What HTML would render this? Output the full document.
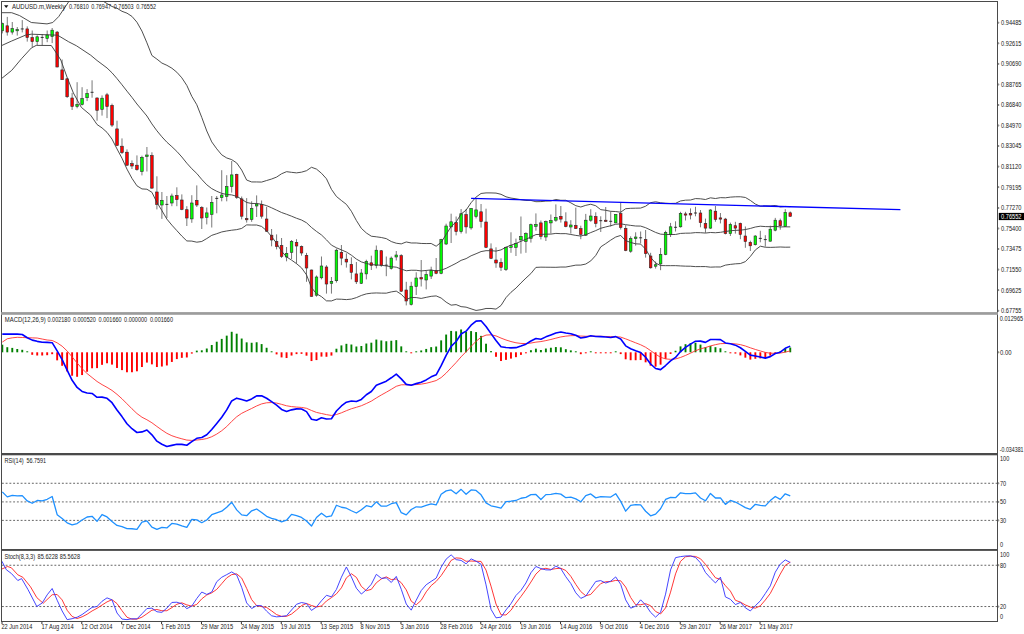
<!DOCTYPE html>
<html><head><meta charset="utf-8"><title>AUDUSD Weekly</title>
<style>html,body{margin:0;padding:0;background:#fff;overflow:hidden}svg{display:block}</style></head>
<body><svg width="1024" height="634" viewBox="0 0 1024 634" style="font-family:&quot;Liberation Sans&quot;,sans-serif"><defs><clipPath id="cm"><rect x="2" y="2" width="995" height="310"/></clipPath><clipPath id="cmacd"><rect x="2" y="314" width="995" height="139"/></clipPath><clipPath id="crsi"><rect x="2" y="455" width="995" height="94"/></clipPath><clipPath id="cst"><rect x="2" y="551" width="995" height="70"/></clipPath></defs><g clip-path="url(#cm)"><line x1="2.30" y1="22.60" x2="2.30" y2="33.40" stroke="#555" stroke-width="0.8" /><rect x="1.00" y="23.60" width="2.6" height="7.20" fill="#00ff00" stroke="#2a2a2a" stroke-width="0.6"/><line x1="7.29" y1="16.90" x2="7.29" y2="35.60" stroke="#555" stroke-width="0.8" /><rect x="5.99" y="25.80" width="2.6" height="6.30" fill="#ff0000" stroke="#2a2a2a" stroke-width="0.6"/><line x1="12.27" y1="22.00" x2="12.27" y2="34.60" stroke="#555" stroke-width="0.8" /><rect x="10.97" y="28.60" width="2.6" height="3.50" fill="#00ff00" stroke="#2a2a2a" stroke-width="0.6"/><line x1="17.26" y1="27.00" x2="17.26" y2="35.60" stroke="#555" stroke-width="0.8" /><rect x="15.96" y="29.60" width="2.6" height="1.20" fill="#00ff00" stroke="#2a2a2a" stroke-width="0.6"/><line x1="22.25" y1="20.10" x2="22.25" y2="32.40" stroke="#555" stroke-width="0.8" /><line x1="20.75" y1="28.95" x2="23.75" y2="28.95" stroke="#222" stroke-width="0.9" /><line x1="27.24" y1="26.40" x2="27.24" y2="41.60" stroke="#555" stroke-width="0.8" /><rect x="25.94" y="28.90" width="2.6" height="8.60" fill="#ff0000" stroke="#2a2a2a" stroke-width="0.6"/><line x1="32.22" y1="30.50" x2="32.22" y2="47.20" stroke="#555" stroke-width="0.8" /><rect x="30.92" y="37.50" width="2.6" height="4.10" fill="#ff0000" stroke="#2a2a2a" stroke-width="0.6"/><line x1="37.21" y1="35.30" x2="37.21" y2="45.00" stroke="#555" stroke-width="0.8" /><rect x="35.91" y="36.80" width="2.6" height="4.80" fill="#00ff00" stroke="#2a2a2a" stroke-width="0.6"/><line x1="42.20" y1="34.00" x2="42.20" y2="45.40" stroke="#555" stroke-width="0.8" /><line x1="40.70" y1="37.45" x2="43.70" y2="37.45" stroke="#222" stroke-width="0.9" /><line x1="47.18" y1="30.50" x2="47.18" y2="42.20" stroke="#555" stroke-width="0.8" /><rect x="45.88" y="34.90" width="2.6" height="3.50" fill="#00ff00" stroke="#2a2a2a" stroke-width="0.6"/><line x1="52.17" y1="28.00" x2="52.17" y2="43.10" stroke="#555" stroke-width="0.8" /><rect x="50.87" y="30.20" width="2.6" height="6.30" fill="#00ff00" stroke="#2a2a2a" stroke-width="0.6"/><line x1="57.16" y1="31.00" x2="57.16" y2="67.30" stroke="#555" stroke-width="0.8" /><rect x="55.86" y="32.10" width="2.6" height="34.90" fill="#ff0000" stroke="#2a2a2a" stroke-width="0.6"/><line x1="62.14" y1="59.50" x2="62.14" y2="79.70" stroke="#555" stroke-width="0.8" /><rect x="60.84" y="69.90" width="2.6" height="9.80" fill="#ff0000" stroke="#2a2a2a" stroke-width="0.6"/><line x1="67.13" y1="77.80" x2="67.13" y2="98.00" stroke="#555" stroke-width="0.8" /><rect x="65.83" y="78.80" width="2.6" height="17.90" fill="#ff0000" stroke="#2a2a2a" stroke-width="0.6"/><line x1="72.12" y1="92.90" x2="72.12" y2="110.00" stroke="#555" stroke-width="0.8" /><rect x="70.82" y="98.00" width="2.6" height="8.50" fill="#ff0000" stroke="#2a2a2a" stroke-width="0.6"/><line x1="77.11" y1="82.20" x2="77.11" y2="108.30" stroke="#555" stroke-width="0.8" /><rect x="75.81" y="104.40" width="2.6" height="2.10" fill="#00ff00" stroke="#2a2a2a" stroke-width="0.6"/><line x1="82.09" y1="87.20" x2="82.09" y2="105.50" stroke="#555" stroke-width="0.8" /><rect x="80.79" y="98.60" width="2.6" height="5.90" fill="#00ff00" stroke="#2a2a2a" stroke-width="0.6"/><line x1="87.08" y1="89.10" x2="87.08" y2="101.10" stroke="#555" stroke-width="0.8" /><rect x="85.78" y="93.50" width="2.6" height="4.20" fill="#00ff00" stroke="#2a2a2a" stroke-width="0.6"/><line x1="92.07" y1="80.30" x2="92.07" y2="97.70" stroke="#555" stroke-width="0.8" /><line x1="90.57" y1="92.30" x2="93.57" y2="92.30" stroke="#222" stroke-width="0.9" /><line x1="97.05" y1="97.30" x2="97.05" y2="120.70" stroke="#555" stroke-width="0.8" /><rect x="95.75" y="98.00" width="2.6" height="12.30" fill="#ff0000" stroke="#2a2a2a" stroke-width="0.6"/><line x1="102.04" y1="95.40" x2="102.04" y2="115.60" stroke="#555" stroke-width="0.8" /><rect x="100.74" y="98.20" width="2.6" height="11.10" fill="#00ff00" stroke="#2a2a2a" stroke-width="0.6"/><line x1="107.03" y1="92.90" x2="107.03" y2="118.10" stroke="#555" stroke-width="0.8" /><rect x="105.73" y="94.80" width="2.6" height="11.70" fill="#ff0000" stroke="#2a2a2a" stroke-width="0.6"/><line x1="112.01" y1="103.60" x2="112.01" y2="127.00" stroke="#555" stroke-width="0.8" /><rect x="110.71" y="105.30" width="2.6" height="19.80" fill="#ff0000" stroke="#2a2a2a" stroke-width="0.6"/><line x1="117.00" y1="120.70" x2="117.00" y2="145.50" stroke="#555" stroke-width="0.8" /><rect x="115.70" y="128.90" width="2.6" height="16.60" fill="#ff0000" stroke="#2a2a2a" stroke-width="0.6"/><line x1="121.99" y1="138.40" x2="121.99" y2="154.00" stroke="#555" stroke-width="0.8" /><rect x="120.69" y="146.20" width="2.6" height="6.40" fill="#ff0000" stroke="#2a2a2a" stroke-width="0.6"/><line x1="126.97" y1="149.40" x2="126.97" y2="166.00" stroke="#555" stroke-width="0.8" /><rect x="125.67" y="152.20" width="2.6" height="13.00" fill="#ff0000" stroke="#2a2a2a" stroke-width="0.6"/><line x1="131.96" y1="160.40" x2="131.96" y2="169.00" stroke="#555" stroke-width="0.8" /><rect x="130.66" y="163.60" width="2.6" height="2.40" fill="#ff0000" stroke="#2a2a2a" stroke-width="0.6"/><line x1="136.95" y1="155.40" x2="136.95" y2="170.70" stroke="#555" stroke-width="0.8" /><rect x="135.65" y="165.20" width="2.6" height="4.40" fill="#ff0000" stroke="#2a2a2a" stroke-width="0.6"/><line x1="141.94" y1="155.70" x2="141.94" y2="175.40" stroke="#555" stroke-width="0.8" /><rect x="140.64" y="157.30" width="2.6" height="14.20" fill="#00ff00" stroke="#2a2a2a" stroke-width="0.6"/><line x1="146.92" y1="147.00" x2="146.92" y2="171.50" stroke="#555" stroke-width="0.8" /><rect x="145.62" y="155.00" width="2.6" height="1.50" fill="#00ff00" stroke="#2a2a2a" stroke-width="0.6"/><line x1="151.91" y1="152.30" x2="151.91" y2="188.90" stroke="#555" stroke-width="0.8" /><rect x="150.61" y="155.50" width="2.6" height="32.60" fill="#ff0000" stroke="#2a2a2a" stroke-width="0.6"/><line x1="156.90" y1="176.30" x2="156.90" y2="209.40" stroke="#555" stroke-width="0.8" /><rect x="155.60" y="192.00" width="2.6" height="12.40" fill="#ff0000" stroke="#2a2a2a" stroke-width="0.6"/><line x1="161.88" y1="192.00" x2="161.88" y2="218.90" stroke="#555" stroke-width="0.8" /><rect x="160.58" y="200.30" width="2.6" height="4.70" fill="#00ff00" stroke="#2a2a2a" stroke-width="0.6"/><line x1="166.87" y1="196.00" x2="166.87" y2="218.00" stroke="#555" stroke-width="0.8" /><line x1="165.37" y1="204.40" x2="168.37" y2="204.40" stroke="#222" stroke-width="0.9" /><line x1="171.86" y1="193.60" x2="171.86" y2="206.20" stroke="#555" stroke-width="0.8" /><rect x="170.56" y="196.00" width="2.6" height="7.00" fill="#00ff00" stroke="#2a2a2a" stroke-width="0.6"/><line x1="176.85" y1="187.30" x2="176.85" y2="206.20" stroke="#555" stroke-width="0.8" /><rect x="175.55" y="195.50" width="2.6" height="4.10" fill="#ff0000" stroke="#2a2a2a" stroke-width="0.6"/><line x1="181.83" y1="194.40" x2="181.83" y2="210.20" stroke="#555" stroke-width="0.8" /><rect x="180.53" y="200.00" width="2.6" height="9.40" fill="#ff0000" stroke="#2a2a2a" stroke-width="0.6"/><line x1="186.82" y1="206.20" x2="186.82" y2="226.00" stroke="#555" stroke-width="0.8" /><rect x="185.52" y="209.70" width="2.6" height="8.30" fill="#ff0000" stroke="#2a2a2a" stroke-width="0.6"/><line x1="191.81" y1="195.20" x2="191.81" y2="222.80" stroke="#555" stroke-width="0.8" /><rect x="190.51" y="203.00" width="2.6" height="15.90" fill="#00ff00" stroke="#2a2a2a" stroke-width="0.6"/><line x1="196.79" y1="185.40" x2="196.79" y2="207.00" stroke="#555" stroke-width="0.8" /><rect x="195.49" y="200.30" width="2.6" height="4.70" fill="#ff0000" stroke="#2a2a2a" stroke-width="0.6"/><line x1="201.78" y1="206.20" x2="201.78" y2="229.00" stroke="#555" stroke-width="0.8" /><rect x="200.48" y="207.50" width="2.6" height="10.50" fill="#ff0000" stroke="#2a2a2a" stroke-width="0.6"/><line x1="206.77" y1="207.50" x2="206.77" y2="224.40" stroke="#555" stroke-width="0.8" /><rect x="205.47" y="212.90" width="2.6" height="4.40" fill="#00ff00" stroke="#2a2a2a" stroke-width="0.6"/><line x1="211.75" y1="196.00" x2="211.75" y2="227.50" stroke="#555" stroke-width="0.8" /><rect x="210.45" y="202.30" width="2.6" height="12.10" fill="#00ff00" stroke="#2a2a2a" stroke-width="0.6"/><line x1="216.74" y1="196.00" x2="216.74" y2="213.30" stroke="#555" stroke-width="0.8" /><line x1="215.24" y1="198.40" x2="218.24" y2="198.40" stroke="#222" stroke-width="0.9" /><line x1="221.73" y1="170.20" x2="221.73" y2="201.30" stroke="#555" stroke-width="0.8" /><rect x="220.43" y="195.00" width="2.6" height="2.60" fill="#00ff00" stroke="#2a2a2a" stroke-width="0.6"/><line x1="226.72" y1="175.20" x2="226.72" y2="201.30" stroke="#555" stroke-width="0.8" /><rect x="225.41" y="186.60" width="2.6" height="9.90" fill="#00ff00" stroke="#2a2a2a" stroke-width="0.6"/><line x1="231.70" y1="161.00" x2="231.70" y2="192.60" stroke="#555" stroke-width="0.8" /><rect x="230.40" y="174.90" width="2.6" height="11.70" fill="#00ff00" stroke="#2a2a2a" stroke-width="0.6"/><line x1="236.69" y1="173.70" x2="236.69" y2="198.90" stroke="#555" stroke-width="0.8" /><rect x="235.39" y="174.40" width="2.6" height="22.90" fill="#ff0000" stroke="#2a2a2a" stroke-width="0.6"/><line x1="241.68" y1="196.50" x2="241.68" y2="219.40" stroke="#555" stroke-width="0.8" /><rect x="240.38" y="198.90" width="2.6" height="17.30" fill="#ff0000" stroke="#2a2a2a" stroke-width="0.6"/><line x1="246.66" y1="198.10" x2="246.66" y2="222.60" stroke="#555" stroke-width="0.8" /><rect x="245.36" y="218.60" width="2.6" height="1.20" fill="#ff0000" stroke="#2a2a2a" stroke-width="0.6"/><line x1="251.65" y1="201.30" x2="251.65" y2="221.80" stroke="#555" stroke-width="0.8" /><rect x="250.35" y="208.40" width="2.6" height="11.00" fill="#00ff00" stroke="#2a2a2a" stroke-width="0.6"/><line x1="256.64" y1="195.40" x2="256.64" y2="217.00" stroke="#555" stroke-width="0.8" /><rect x="255.34" y="204.00" width="2.6" height="2.00" fill="#00ff00" stroke="#2a2a2a" stroke-width="0.6"/><line x1="261.62" y1="200.50" x2="261.62" y2="218.60" stroke="#555" stroke-width="0.8" /><rect x="260.32" y="204.40" width="2.6" height="11.80" fill="#ff0000" stroke="#2a2a2a" stroke-width="0.6"/><line x1="266.61" y1="206.80" x2="266.61" y2="232.00" stroke="#555" stroke-width="0.8" /><rect x="265.31" y="219.00" width="2.6" height="12.20" fill="#ff0000" stroke="#2a2a2a" stroke-width="0.6"/><line x1="271.60" y1="229.00" x2="271.60" y2="246.30" stroke="#555" stroke-width="0.8" /><rect x="270.30" y="235.20" width="2.6" height="4.80" fill="#ff0000" stroke="#2a2a2a" stroke-width="0.6"/><line x1="276.59" y1="234.40" x2="276.59" y2="249.40" stroke="#555" stroke-width="0.8" /><rect x="275.29" y="241.50" width="2.6" height="5.10" fill="#ff0000" stroke="#2a2a2a" stroke-width="0.6"/><line x1="281.57" y1="238.00" x2="281.57" y2="258.00" stroke="#555" stroke-width="0.8" /><rect x="280.27" y="245.50" width="2.6" height="11.00" fill="#ff0000" stroke="#2a2a2a" stroke-width="0.6"/><line x1="286.56" y1="247.00" x2="286.56" y2="261.30" stroke="#555" stroke-width="0.8" /><rect x="285.26" y="253.40" width="2.6" height="3.60" fill="#00ff00" stroke="#2a2a2a" stroke-width="0.6"/><line x1="291.55" y1="240.00" x2="291.55" y2="259.00" stroke="#555" stroke-width="0.8" /><rect x="290.25" y="241.50" width="2.6" height="10.80" fill="#00ff00" stroke="#2a2a2a" stroke-width="0.6"/><line x1="296.53" y1="239.20" x2="296.53" y2="263.60" stroke="#555" stroke-width="0.8" /><rect x="295.23" y="242.30" width="2.6" height="3.70" fill="#ff0000" stroke="#2a2a2a" stroke-width="0.6"/><line x1="301.52" y1="245.50" x2="301.52" y2="255.70" stroke="#555" stroke-width="0.8" /><rect x="300.22" y="246.60" width="2.6" height="6.40" fill="#ff0000" stroke="#2a2a2a" stroke-width="0.6"/><line x1="306.51" y1="252.90" x2="306.51" y2="281.80" stroke="#555" stroke-width="0.8" /><rect x="305.21" y="255.40" width="2.6" height="12.60" fill="#ff0000" stroke="#2a2a2a" stroke-width="0.6"/><line x1="311.49" y1="269.60" x2="311.49" y2="296.70" stroke="#555" stroke-width="0.8" /><rect x="310.19" y="270.00" width="2.6" height="26.40" fill="#ff0000" stroke="#2a2a2a" stroke-width="0.6"/><line x1="316.48" y1="275.50" x2="316.48" y2="296.70" stroke="#555" stroke-width="0.8" /><rect x="315.18" y="277.00" width="2.6" height="18.20" fill="#00ff00" stroke="#2a2a2a" stroke-width="0.6"/><line x1="321.47" y1="256.50" x2="321.47" y2="279.40" stroke="#555" stroke-width="0.8" /><rect x="320.17" y="266.00" width="2.6" height="11.80" fill="#00ff00" stroke="#2a2a2a" stroke-width="0.6"/><line x1="326.46" y1="265.20" x2="326.46" y2="293.60" stroke="#555" stroke-width="0.8" /><rect x="325.16" y="267.00" width="2.6" height="17.00" fill="#ff0000" stroke="#2a2a2a" stroke-width="0.6"/><line x1="331.44" y1="277.00" x2="331.44" y2="293.60" stroke="#555" stroke-width="0.8" /><rect x="330.14" y="281.30" width="2.6" height="2.00" fill="#00ff00" stroke="#2a2a2a" stroke-width="0.6"/><line x1="336.43" y1="248.60" x2="336.43" y2="282.60" stroke="#555" stroke-width="0.8" /><rect x="335.13" y="250.20" width="2.6" height="30.50" fill="#00ff00" stroke="#2a2a2a" stroke-width="0.6"/><line x1="341.42" y1="245.00" x2="341.42" y2="265.20" stroke="#555" stroke-width="0.8" /><rect x="340.12" y="252.30" width="2.6" height="5.80" fill="#ff0000" stroke="#2a2a2a" stroke-width="0.6"/><line x1="346.40" y1="253.40" x2="346.40" y2="267.60" stroke="#555" stroke-width="0.8" /><rect x="345.10" y="259.20" width="2.6" height="2.80" fill="#ff0000" stroke="#2a2a2a" stroke-width="0.6"/><line x1="351.39" y1="257.30" x2="351.39" y2="279.40" stroke="#555" stroke-width="0.8" /><rect x="350.09" y="264.40" width="2.6" height="7.90" fill="#ff0000" stroke="#2a2a2a" stroke-width="0.6"/><line x1="356.38" y1="262.00" x2="356.38" y2="284.00" stroke="#555" stroke-width="0.8" /><rect x="355.08" y="273.90" width="2.6" height="7.90" fill="#ff0000" stroke="#2a2a2a" stroke-width="0.6"/><line x1="361.36" y1="269.00" x2="361.36" y2="284.00" stroke="#555" stroke-width="0.8" /><rect x="360.06" y="273.00" width="2.6" height="10.30" fill="#00ff00" stroke="#2a2a2a" stroke-width="0.6"/><line x1="366.35" y1="259.70" x2="366.35" y2="279.40" stroke="#555" stroke-width="0.8" /><rect x="365.05" y="261.30" width="2.6" height="12.60" fill="#00ff00" stroke="#2a2a2a" stroke-width="0.6"/><line x1="371.34" y1="255.70" x2="371.34" y2="270.00" stroke="#555" stroke-width="0.8" /><rect x="370.04" y="262.80" width="2.6" height="2.70" fill="#ff0000" stroke="#2a2a2a" stroke-width="0.6"/><line x1="376.33" y1="245.50" x2="376.33" y2="268.40" stroke="#555" stroke-width="0.8" /><rect x="375.03" y="250.20" width="2.6" height="15.30" fill="#00ff00" stroke="#2a2a2a" stroke-width="0.6"/><line x1="381.31" y1="250.20" x2="381.31" y2="266.80" stroke="#555" stroke-width="0.8" /><rect x="380.01" y="250.70" width="2.6" height="14.50" fill="#ff0000" stroke="#2a2a2a" stroke-width="0.6"/><line x1="386.30" y1="256.50" x2="386.30" y2="276.20" stroke="#555" stroke-width="0.8" /><line x1="384.80" y1="265.20" x2="387.80" y2="265.20" stroke="#222" stroke-width="0.9" /><line x1="391.29" y1="256.50" x2="391.29" y2="269.60" stroke="#555" stroke-width="0.8" /><rect x="389.99" y="258.10" width="2.6" height="10.30" fill="#00ff00" stroke="#2a2a2a" stroke-width="0.6"/><line x1="396.27" y1="251.00" x2="396.27" y2="260.50" stroke="#555" stroke-width="0.8" /><rect x="394.97" y="255.00" width="2.6" height="2.00" fill="#00ff00" stroke="#2a2a2a" stroke-width="0.6"/><line x1="401.26" y1="254.20" x2="401.26" y2="292.00" stroke="#555" stroke-width="0.8" /><rect x="399.96" y="255.70" width="2.6" height="35.50" fill="#ff0000" stroke="#2a2a2a" stroke-width="0.6"/><line x1="406.25" y1="281.80" x2="406.25" y2="305.40" stroke="#555" stroke-width="0.8" /><rect x="404.95" y="290.00" width="2.6" height="11.00" fill="#ff0000" stroke="#2a2a2a" stroke-width="0.6"/><line x1="411.23" y1="281.80" x2="411.23" y2="305.50" stroke="#555" stroke-width="0.8" /><rect x="409.93" y="286.20" width="2.6" height="18.30" fill="#00ff00" stroke="#2a2a2a" stroke-width="0.6"/><line x1="416.22" y1="272.30" x2="416.22" y2="295.00" stroke="#555" stroke-width="0.8" /><rect x="414.92" y="278.00" width="2.6" height="8.50" fill="#00ff00" stroke="#2a2a2a" stroke-width="0.6"/><line x1="421.21" y1="260.00" x2="421.21" y2="286.50" stroke="#555" stroke-width="0.8" /><rect x="419.91" y="277.60" width="2.6" height="1.40" fill="#ff0000" stroke="#2a2a2a" stroke-width="0.6"/><line x1="426.19" y1="270.40" x2="426.19" y2="289.40" stroke="#555" stroke-width="0.8" /><rect x="424.89" y="274.60" width="2.6" height="5.40" fill="#00ff00" stroke="#2a2a2a" stroke-width="0.6"/><line x1="431.18" y1="266.70" x2="431.18" y2="279.00" stroke="#555" stroke-width="0.8" /><rect x="429.88" y="270.40" width="2.6" height="5.70" fill="#00ff00" stroke="#2a2a2a" stroke-width="0.6"/><line x1="436.17" y1="258.00" x2="436.17" y2="274.20" stroke="#555" stroke-width="0.8" /><rect x="434.87" y="270.40" width="2.6" height="2.90" fill="#ff0000" stroke="#2a2a2a" stroke-width="0.6"/><line x1="441.16" y1="238.80" x2="441.16" y2="274.20" stroke="#555" stroke-width="0.8" /><rect x="439.86" y="239.60" width="2.6" height="33.70" fill="#00ff00" stroke="#2a2a2a" stroke-width="0.6"/><line x1="446.14" y1="223.70" x2="446.14" y2="245.00" stroke="#555" stroke-width="0.8" /><rect x="444.84" y="226.00" width="2.6" height="18.00" fill="#00ff00" stroke="#2a2a2a" stroke-width="0.6"/><line x1="451.13" y1="213.70" x2="451.13" y2="243.00" stroke="#555" stroke-width="0.8" /><rect x="449.83" y="221.80" width="2.6" height="5.10" fill="#00ff00" stroke="#2a2a2a" stroke-width="0.6"/><line x1="456.12" y1="216.50" x2="456.12" y2="235.40" stroke="#555" stroke-width="0.8" /><rect x="454.82" y="222.60" width="2.6" height="9.00" fill="#ff0000" stroke="#2a2a2a" stroke-width="0.6"/><line x1="461.10" y1="209.00" x2="461.10" y2="233.50" stroke="#555" stroke-width="0.8" /><rect x="459.80" y="213.70" width="2.6" height="17.90" fill="#00ff00" stroke="#2a2a2a" stroke-width="0.6"/><line x1="466.09" y1="209.00" x2="466.09" y2="233.50" stroke="#555" stroke-width="0.8" /><rect x="464.79" y="214.60" width="2.6" height="12.30" fill="#ff0000" stroke="#2a2a2a" stroke-width="0.6"/><line x1="471.08" y1="208.00" x2="471.08" y2="229.70" stroke="#555" stroke-width="0.8" /><rect x="469.78" y="208.50" width="2.6" height="19.40" fill="#00ff00" stroke="#2a2a2a" stroke-width="0.6"/><line x1="476.06" y1="198.50" x2="476.06" y2="218.40" stroke="#555" stroke-width="0.8" /><rect x="474.76" y="209.90" width="2.6" height="6.60" fill="#00ff00" stroke="#2a2a2a" stroke-width="0.6"/><line x1="481.05" y1="204.00" x2="481.05" y2="227.60" stroke="#555" stroke-width="0.8" /><rect x="479.75" y="211.80" width="2.6" height="9.80" fill="#ff0000" stroke="#2a2a2a" stroke-width="0.6"/><line x1="486.04" y1="208.70" x2="486.04" y2="248.10" stroke="#555" stroke-width="0.8" /><rect x="484.74" y="222.00" width="2.6" height="25.30" fill="#ff0000" stroke="#2a2a2a" stroke-width="0.6"/><line x1="491.03" y1="243.40" x2="491.03" y2="259.10" stroke="#555" stroke-width="0.8" /><rect x="489.73" y="248.90" width="2.6" height="9.40" fill="#ff0000" stroke="#2a2a2a" stroke-width="0.6"/><line x1="496.01" y1="247.30" x2="496.01" y2="267.80" stroke="#555" stroke-width="0.8" /><rect x="494.71" y="260.00" width="2.6" height="3.00" fill="#ff0000" stroke="#2a2a2a" stroke-width="0.6"/><line x1="501.00" y1="258.30" x2="501.00" y2="271.00" stroke="#555" stroke-width="0.8" /><rect x="499.70" y="262.30" width="2.6" height="5.00" fill="#ff0000" stroke="#2a2a2a" stroke-width="0.6"/><line x1="505.99" y1="246.50" x2="505.99" y2="271.00" stroke="#555" stroke-width="0.8" /><rect x="504.69" y="247.30" width="2.6" height="22.10" fill="#00ff00" stroke="#2a2a2a" stroke-width="0.6"/><line x1="510.97" y1="232.30" x2="510.97" y2="252.80" stroke="#555" stroke-width="0.8" /><rect x="509.67" y="245.70" width="2.6" height="1.60" fill="#00ff00" stroke="#2a2a2a" stroke-width="0.6"/><line x1="515.96" y1="238.60" x2="515.96" y2="256.00" stroke="#555" stroke-width="0.8" /><rect x="514.66" y="243.40" width="2.6" height="3.90" fill="#00ff00" stroke="#2a2a2a" stroke-width="0.6"/><line x1="520.95" y1="216.50" x2="520.95" y2="253.60" stroke="#555" stroke-width="0.8" /><rect x="519.65" y="236.30" width="2.6" height="3.60" fill="#00ff00" stroke="#2a2a2a" stroke-width="0.6"/><line x1="525.93" y1="232.30" x2="525.93" y2="252.80" stroke="#555" stroke-width="0.8" /><rect x="524.63" y="233.60" width="2.6" height="7.90" fill="#00ff00" stroke="#2a2a2a" stroke-width="0.6"/><line x1="530.92" y1="223.60" x2="530.92" y2="242.60" stroke="#555" stroke-width="0.8" /><rect x="529.62" y="224.70" width="2.6" height="13.60" fill="#00ff00" stroke="#2a2a2a" stroke-width="0.6"/><line x1="535.91" y1="213.40" x2="535.91" y2="230.70" stroke="#555" stroke-width="0.8" /><rect x="534.61" y="224.40" width="2.6" height="1.90" fill="#00ff00" stroke="#2a2a2a" stroke-width="0.6"/><line x1="540.90" y1="220.50" x2="540.90" y2="239.40" stroke="#555" stroke-width="0.8" /><rect x="539.60" y="222.90" width="2.6" height="13.40" fill="#ff0000" stroke="#2a2a2a" stroke-width="0.6"/><line x1="545.88" y1="220.50" x2="545.88" y2="241.00" stroke="#555" stroke-width="0.8" /><rect x="544.58" y="221.60" width="2.6" height="15.40" fill="#00ff00" stroke="#2a2a2a" stroke-width="0.6"/><line x1="550.87" y1="214.50" x2="550.87" y2="233.50" stroke="#555" stroke-width="0.8" /><rect x="549.57" y="220.60" width="2.6" height="2.30" fill="#00ff00" stroke="#2a2a2a" stroke-width="0.6"/><line x1="555.86" y1="204.40" x2="555.86" y2="221.80" stroke="#555" stroke-width="0.8" /><rect x="554.56" y="217.50" width="2.6" height="2.70" fill="#00ff00" stroke="#2a2a2a" stroke-width="0.6"/><line x1="560.84" y1="206.00" x2="560.84" y2="222.60" stroke="#555" stroke-width="0.8" /><rect x="559.54" y="216.30" width="2.6" height="2.80" fill="#ff0000" stroke="#2a2a2a" stroke-width="0.6"/><line x1="565.83" y1="212.30" x2="565.83" y2="227.30" stroke="#555" stroke-width="0.8" /><rect x="564.53" y="221.80" width="2.6" height="4.70" fill="#ff0000" stroke="#2a2a2a" stroke-width="0.6"/><line x1="570.82" y1="220.20" x2="570.82" y2="233.60" stroke="#555" stroke-width="0.8" /><rect x="569.52" y="225.00" width="2.6" height="2.00" fill="#00ff00" stroke="#2a2a2a" stroke-width="0.6"/><line x1="575.80" y1="207.60" x2="575.80" y2="228.90" stroke="#555" stroke-width="0.8" /><rect x="574.50" y="225.40" width="2.6" height="3.20" fill="#ff0000" stroke="#2a2a2a" stroke-width="0.6"/><line x1="580.79" y1="225.70" x2="580.79" y2="239.20" stroke="#555" stroke-width="0.8" /><rect x="579.49" y="228.60" width="2.6" height="5.80" fill="#ff0000" stroke="#2a2a2a" stroke-width="0.6"/><line x1="585.78" y1="213.90" x2="585.78" y2="236.00" stroke="#555" stroke-width="0.8" /><rect x="584.48" y="220.20" width="2.6" height="15.00" fill="#00ff00" stroke="#2a2a2a" stroke-width="0.6"/><line x1="590.77" y1="209.20" x2="590.77" y2="221.80" stroke="#555" stroke-width="0.8" /><rect x="589.47" y="216.00" width="2.6" height="4.20" fill="#00ff00" stroke="#2a2a2a" stroke-width="0.6"/><line x1="595.75" y1="212.30" x2="595.75" y2="227.30" stroke="#555" stroke-width="0.8" /><rect x="594.45" y="216.60" width="2.6" height="6.80" fill="#ff0000" stroke="#2a2a2a" stroke-width="0.6"/><line x1="600.74" y1="216.30" x2="600.74" y2="232.00" stroke="#555" stroke-width="0.8" /><line x1="599.24" y1="220.70" x2="602.24" y2="220.70" stroke="#222" stroke-width="0.9" /><line x1="605.73" y1="207.00" x2="605.73" y2="221.80" stroke="#555" stroke-width="0.8" /><rect x="604.43" y="220.20" width="2.6" height="1.20" fill="#ff0000" stroke="#2a2a2a" stroke-width="0.6"/><line x1="610.71" y1="211.50" x2="610.71" y2="226.50" stroke="#555" stroke-width="0.8" /><line x1="609.21" y1="221.30" x2="612.21" y2="221.30" stroke="#222" stroke-width="0.9" /><line x1="615.70" y1="214.20" x2="615.70" y2="223.20" stroke="#555" stroke-width="0.8" /><rect x="614.40" y="214.40" width="2.6" height="8.50" fill="#00ff00" stroke="#2a2a2a" stroke-width="0.6"/><line x1="620.69" y1="202.40" x2="620.69" y2="229.50" stroke="#555" stroke-width="0.8" /><rect x="619.39" y="213.60" width="2.6" height="13.90" fill="#ff0000" stroke="#2a2a2a" stroke-width="0.6"/><line x1="625.67" y1="225.20" x2="625.67" y2="251.20" stroke="#555" stroke-width="0.8" /><rect x="624.38" y="228.40" width="2.6" height="22.10" fill="#ff0000" stroke="#2a2a2a" stroke-width="0.6"/><line x1="630.66" y1="236.30" x2="630.66" y2="252.80" stroke="#555" stroke-width="0.8" /><rect x="629.36" y="238.60" width="2.6" height="12.60" fill="#00ff00" stroke="#2a2a2a" stroke-width="0.6"/><line x1="635.65" y1="232.30" x2="635.65" y2="245.70" stroke="#555" stroke-width="0.8" /><rect x="634.35" y="237.00" width="2.6" height="1.60" fill="#00ff00" stroke="#2a2a2a" stroke-width="0.6"/><line x1="640.64" y1="231.50" x2="640.64" y2="243.40" stroke="#555" stroke-width="0.8" /><line x1="639.14" y1="237.80" x2="642.14" y2="237.80" stroke="#222" stroke-width="0.9" /><line x1="645.62" y1="230.00" x2="645.62" y2="257.60" stroke="#555" stroke-width="0.8" /><rect x="644.32" y="239.40" width="2.6" height="14.20" fill="#ff0000" stroke="#2a2a2a" stroke-width="0.6"/><line x1="650.61" y1="252.80" x2="650.61" y2="268.60" stroke="#555" stroke-width="0.8" /><rect x="649.31" y="256.00" width="2.6" height="11.80" fill="#ff0000" stroke="#2a2a2a" stroke-width="0.6"/><line x1="655.60" y1="261.50" x2="655.60" y2="268.60" stroke="#555" stroke-width="0.8" /><rect x="654.30" y="264.70" width="2.6" height="1.50" fill="#00ff00" stroke="#2a2a2a" stroke-width="0.6"/><line x1="660.58" y1="248.00" x2="660.58" y2="270.20" stroke="#555" stroke-width="0.8" /><rect x="659.28" y="254.40" width="2.6" height="9.50" fill="#00ff00" stroke="#2a2a2a" stroke-width="0.6"/><line x1="665.57" y1="230.70" x2="665.57" y2="255.20" stroke="#555" stroke-width="0.8" /><rect x="664.27" y="232.30" width="2.6" height="22.10" fill="#00ff00" stroke="#2a2a2a" stroke-width="0.6"/><line x1="670.56" y1="222.90" x2="670.56" y2="237.00" stroke="#555" stroke-width="0.8" /><rect x="669.26" y="226.80" width="2.6" height="7.90" fill="#00ff00" stroke="#2a2a2a" stroke-width="0.6"/><line x1="675.54" y1="221.30" x2="675.54" y2="231.50" stroke="#555" stroke-width="0.8" /><line x1="674.04" y1="227.30" x2="677.04" y2="227.30" stroke="#222" stroke-width="0.9" /><line x1="680.53" y1="211.80" x2="680.53" y2="227.60" stroke="#555" stroke-width="0.8" /><rect x="679.23" y="213.40" width="2.6" height="13.40" fill="#00ff00" stroke="#2a2a2a" stroke-width="0.6"/><line x1="685.52" y1="211.80" x2="685.52" y2="220.50" stroke="#555" stroke-width="0.8" /><rect x="684.22" y="213.90" width="2.6" height="1.20" fill="#ff0000" stroke="#2a2a2a" stroke-width="0.6"/><line x1="690.51" y1="208.40" x2="690.51" y2="219.40" stroke="#555" stroke-width="0.8" /><rect x="689.21" y="213.40" width="2.6" height="1.60" fill="#ff0000" stroke="#2a2a2a" stroke-width="0.6"/><line x1="695.49" y1="206.80" x2="695.49" y2="216.30" stroke="#555" stroke-width="0.8" /><line x1="693.99" y1="213.00" x2="696.99" y2="213.00" stroke="#222" stroke-width="0.9" /><line x1="700.48" y1="210.00" x2="700.48" y2="227.30" stroke="#555" stroke-width="0.8" /><rect x="699.18" y="213.00" width="2.6" height="9.60" fill="#ff0000" stroke="#2a2a2a" stroke-width="0.6"/><line x1="705.47" y1="218.60" x2="705.47" y2="232.80" stroke="#555" stroke-width="0.8" /><rect x="704.17" y="223.40" width="2.6" height="4.70" fill="#ff0000" stroke="#2a2a2a" stroke-width="0.6"/><line x1="710.45" y1="209.20" x2="710.45" y2="228.90" stroke="#555" stroke-width="0.8" /><rect x="709.15" y="210.00" width="2.6" height="18.10" fill="#00ff00" stroke="#2a2a2a" stroke-width="0.6"/><line x1="715.44" y1="206.00" x2="715.44" y2="221.80" stroke="#555" stroke-width="0.8" /><rect x="714.14" y="211.20" width="2.6" height="8.20" fill="#ff0000" stroke="#2a2a2a" stroke-width="0.6"/><line x1="720.43" y1="213.00" x2="720.43" y2="223.40" stroke="#555" stroke-width="0.8" /><rect x="719.13" y="217.90" width="2.6" height="1.20" fill="#ff0000" stroke="#2a2a2a" stroke-width="0.6"/><line x1="725.41" y1="217.90" x2="725.41" y2="234.40" stroke="#555" stroke-width="0.8" /><rect x="724.12" y="219.10" width="2.6" height="14.50" fill="#ff0000" stroke="#2a2a2a" stroke-width="0.6"/><line x1="730.40" y1="222.60" x2="730.40" y2="236.00" stroke="#555" stroke-width="0.8" /><rect x="729.10" y="224.50" width="2.6" height="9.10" fill="#00ff00" stroke="#2a2a2a" stroke-width="0.6"/><line x1="735.39" y1="221.80" x2="735.39" y2="233.60" stroke="#555" stroke-width="0.8" /><rect x="734.09" y="225.70" width="2.6" height="2.40" fill="#ff0000" stroke="#2a2a2a" stroke-width="0.6"/><line x1="740.38" y1="222.60" x2="740.38" y2="239.20" stroke="#555" stroke-width="0.8" /><rect x="739.08" y="223.40" width="2.6" height="11.00" fill="#ff0000" stroke="#2a2a2a" stroke-width="0.6"/><line x1="745.36" y1="226.50" x2="745.36" y2="247.80" stroke="#555" stroke-width="0.8" /><rect x="744.06" y="236.00" width="2.6" height="5.50" fill="#ff0000" stroke="#2a2a2a" stroke-width="0.6"/><line x1="750.35" y1="240.70" x2="750.35" y2="251.00" stroke="#555" stroke-width="0.8" /><rect x="749.05" y="242.30" width="2.6" height="3.50" fill="#ff0000" stroke="#2a2a2a" stroke-width="0.6"/><line x1="755.34" y1="235.20" x2="755.34" y2="245.50" stroke="#555" stroke-width="0.8" /><rect x="754.04" y="236.00" width="2.6" height="8.70" fill="#00ff00" stroke="#2a2a2a" stroke-width="0.6"/><line x1="760.32" y1="230.80" x2="760.32" y2="242.30" stroke="#555" stroke-width="0.8" /><line x1="758.82" y1="238.40" x2="761.82" y2="238.40" stroke="#222" stroke-width="0.9" /><line x1="765.31" y1="235.20" x2="765.31" y2="246.60" stroke="#555" stroke-width="0.8" /><line x1="763.81" y1="239.60" x2="766.81" y2="239.60" stroke="#222" stroke-width="0.9" /><line x1="770.30" y1="225.70" x2="770.30" y2="241.50" stroke="#555" stroke-width="0.8" /><rect x="769.00" y="229.20" width="2.6" height="12.00" fill="#00ff00" stroke="#2a2a2a" stroke-width="0.6"/><line x1="775.28" y1="217.90" x2="775.28" y2="231.30" stroke="#555" stroke-width="0.8" /><rect x="773.99" y="220.20" width="2.6" height="10.00" fill="#00ff00" stroke="#2a2a2a" stroke-width="0.6"/><line x1="780.27" y1="218.60" x2="780.27" y2="229.70" stroke="#555" stroke-width="0.8" /><rect x="778.97" y="220.70" width="2.6" height="5.00" fill="#ff0000" stroke="#2a2a2a" stroke-width="0.6"/><line x1="785.26" y1="209.20" x2="785.26" y2="226.50" stroke="#555" stroke-width="0.8" /><rect x="783.96" y="212.30" width="2.6" height="14.20" fill="#00ff00" stroke="#2a2a2a" stroke-width="0.6"/><line x1="790.25" y1="211.50" x2="790.25" y2="216.60" stroke="#555" stroke-width="0.8" /><rect x="788.95" y="212.80" width="2.6" height="3.50" fill="#ff0000" stroke="#2a2a2a" stroke-width="0.6"/><polyline points="2.00,12.70 11.70,12.70 19.60,15.60 31.30,22.50 47.00,23.90 52.80,22.50 58.70,16.60 68.50,2.00 80.00,-12.00 90.00,-8.00 97.05,-3.49 102.04,0.58 107.03,3.56 112.01,6.47 117.00,8.24 121.99,11.30 126.97,13.17 131.96,16.40 136.95,22.22 141.94,31.09 146.92,42.80 151.91,55.51 156.90,59.10 161.88,63.07 166.87,65.30 171.86,68.20 176.85,72.24 181.83,77.84 186.82,85.44 191.81,96.37 196.79,104.72 201.78,117.43 206.77,130.99 211.75,141.92 216.74,148.84 221.73,154.84 226.72,157.96 231.70,159.61 236.69,162.96 241.68,170.05 246.66,180.06 251.65,181.95 256.64,181.94 261.62,182.09 266.61,180.52 271.60,179.03 276.59,177.08 281.57,173.77 286.56,171.66 291.55,172.33 296.53,172.86 301.52,172.16 306.51,170.70 311.49,167.28 316.48,169.09 321.47,173.25 326.46,178.78 331.44,189.34 336.43,196.47 341.42,200.51 346.40,204.38 351.39,211.27 356.38,220.53 361.36,228.38 366.35,232.98 371.34,236.21 376.33,236.81 381.31,237.51 386.30,238.64 391.29,241.56 396.27,243.22 401.26,243.89 406.25,241.98 411.23,242.98 416.22,242.98 421.21,243.45 426.19,243.57 431.18,243.49 436.17,246.22 441.16,242.25 446.14,234.55 451.13,226.49 456.12,222.02 461.10,214.05 466.09,210.10 471.08,202.72 476.06,197.07 481.05,193.48 486.04,192.90 491.03,192.91 496.01,193.09 501.00,194.31 505.99,196.81 510.97,198.07 515.96,198.81 520.95,199.69 525.93,200.45 530.92,200.45 535.91,201.70 540.90,201.60 545.88,201.10 550.87,200.95 555.86,199.47 560.84,200.29 565.83,200.25 570.82,202.84 575.80,205.68 580.79,207.00 585.78,205.34 590.77,204.26 595.75,205.74 600.74,209.66 605.73,210.29 610.71,211.32 615.70,211.54 620.69,212.23 625.67,208.71 630.66,208.30 635.65,208.20 640.64,208.09 645.62,206.22 650.61,202.65 655.60,201.80 660.58,202.77 665.57,203.25 670.56,203.44 675.54,203.32 680.53,200.94 685.52,200.18 690.51,200.02 695.49,198.59 700.48,198.81 705.47,199.52 710.45,197.82 715.44,198.52 720.43,197.65 725.41,197.81 730.40,197.14 735.39,196.81 740.38,196.75 745.36,197.46 750.35,200.43 755.34,204.09 760.32,206.24 765.31,205.92 770.30,206.01 775.28,205.46 780.27,206.93 785.26,206.44 790.25,206.65" fill="none" stroke="#3a3a3a" stroke-width="0.9" stroke-linejoin="round" /><polyline points="2.00,45.40 11.70,41.00 25.40,35.20 31.30,34.20 57.60,35.20 68.70,41.80 76.50,45.80 90.70,55.20 97.05,60.51 102.04,64.24 107.03,67.97 112.01,72.79 117.00,78.58 121.99,84.77 126.97,91.15 131.96,97.37 136.95,104.01 141.94,110.01 146.92,116.01 151.91,123.91 156.90,130.78 161.88,136.81 166.87,142.19 171.86,146.66 176.85,151.43 181.83,156.97 186.82,163.19 191.81,168.72 196.79,173.46 201.78,179.45 206.77,184.77 211.75,188.63 216.74,191.28 221.73,193.39 226.72,194.46 231.70,194.91 236.69,196.30 241.68,199.24 246.66,202.47 251.65,203.49 256.64,203.47 261.62,204.27 266.61,205.61 271.60,207.81 276.59,210.15 281.57,212.51 286.56,214.28 291.55,216.20 296.53,218.25 301.52,220.00 306.51,222.76 311.49,227.46 316.48,231.40 321.47,234.94 326.46,239.82 331.44,245.13 336.43,247.78 341.42,249.88 346.40,251.99 351.39,255.18 356.38,259.07 361.36,261.91 366.35,263.42 371.34,264.70 376.33,264.88 381.31,265.31 386.30,265.90 391.29,266.73 396.27,267.18 401.26,269.09 406.25,270.74 411.23,270.23 416.22,270.28 421.21,270.93 426.19,270.46 431.18,269.92 436.17,271.07 441.16,270.15 446.14,268.34 451.13,265.82 456.12,263.31 461.10,260.35 466.09,258.63 471.08,255.78 476.06,253.76 481.05,251.58 486.04,250.68 491.03,250.70 496.01,251.10 501.00,249.90 505.99,247.22 510.97,245.19 515.96,243.46 520.95,241.32 525.93,239.27 530.92,236.99 535.91,234.55 540.90,234.38 545.88,234.16 550.87,234.10 555.86,233.40 560.84,233.66 565.83,233.64 570.82,234.47 575.80,235.40 580.79,236.05 585.78,234.69 590.77,232.57 595.75,230.59 600.74,228.27 605.73,226.95 610.71,225.73 615.70,224.28 620.69,223.84 625.67,224.68 630.66,225.38 635.65,226.01 640.64,226.08 645.62,227.69 650.61,230.04 655.60,232.41 660.58,234.17 665.57,234.46 670.56,234.55 675.54,234.48 680.53,233.43 685.52,233.18 690.51,233.12 695.49,232.60 700.48,232.70 705.47,233.05 710.45,232.49 715.44,232.74 720.43,232.32 725.41,231.47 730.40,230.77 735.39,230.33 740.38,230.16 745.36,229.55 750.35,228.45 755.34,227.01 760.32,226.21 765.31,226.58 770.30,226.70 775.28,226.34 780.27,226.96 785.26,226.82 790.25,226.89" fill="none" stroke="#3a3a3a" stroke-width="0.9" stroke-linejoin="round" /><polyline points="2.00,78.20 11.70,70.40 21.50,58.70 31.30,48.00 36.20,45.40 51.30,45.50 56.80,53.70 60.80,60.00 67.10,77.30 73.40,93.00 81.30,107.30 90.70,115.20 97.05,124.52 102.04,127.91 107.03,132.37 112.01,139.11 117.00,148.93 121.99,158.24 126.97,169.14 131.96,178.34 136.95,185.80 141.94,188.92 146.92,189.22 151.91,192.30 156.90,202.45 161.88,210.54 166.87,219.08 171.86,225.13 176.85,230.61 181.83,236.09 186.82,240.94 191.81,241.08 196.79,242.20 201.78,241.47 206.77,238.55 211.75,235.34 216.74,233.71 221.73,231.95 226.72,230.97 231.70,230.21 236.69,229.63 241.68,228.43 246.66,224.89 251.65,225.03 256.64,225.00 261.62,226.44 266.61,230.69 271.60,236.58 276.59,243.23 281.57,251.25 286.56,256.90 291.55,260.08 296.53,263.65 301.52,267.85 306.51,274.82 311.49,287.65 316.48,293.70 321.47,296.64 326.46,300.85 331.44,300.93 336.43,299.09 341.42,299.24 346.40,299.60 351.39,299.10 356.38,297.62 361.36,295.45 366.35,293.86 371.34,293.18 376.33,292.94 381.31,293.11 386.30,293.16 391.29,291.90 396.27,291.14 401.26,294.29 406.25,299.50 411.23,297.48 416.22,297.58 421.21,298.41 426.19,297.35 431.18,296.34 436.17,295.92 441.16,298.04 446.14,302.14 451.13,305.15 456.12,304.60 461.10,306.64 466.09,307.15 471.08,308.83 476.06,310.45 481.05,309.68 486.04,308.47 491.03,308.48 496.01,309.10 501.00,305.49 505.99,297.62 510.97,292.31 515.96,288.11 520.95,282.96 525.93,278.10 530.92,273.53 535.91,267.39 540.90,267.16 545.88,267.22 550.87,267.25 555.86,267.32 560.84,267.04 565.83,267.04 570.82,266.10 575.80,265.13 580.79,265.09 585.78,264.04 590.77,260.89 595.75,255.45 600.74,246.87 605.73,243.61 610.71,240.14 615.70,237.02 620.69,235.45 625.67,240.66 630.66,242.46 635.65,243.82 640.64,244.08 645.62,249.15 650.61,257.44 655.60,263.01 660.58,265.57 665.57,265.67 670.56,265.66 675.54,265.65 680.53,265.93 685.52,266.17 690.51,266.23 695.49,266.62 700.48,266.59 705.47,266.59 710.45,267.16 715.44,266.96 720.43,266.99 725.41,265.14 730.40,264.40 735.39,263.84 740.38,263.56 745.36,261.64 750.35,256.47 755.34,249.94 760.32,246.19 765.31,247.24 770.30,247.39 775.28,247.23 780.27,246.99 785.26,247.21 790.25,247.13" fill="none" stroke="#3a3a3a" stroke-width="0.9" stroke-linejoin="round" /><line x1="471.10" y1="198.40" x2="900.40" y2="209.60" stroke="#0000ff" stroke-width="1.3" /></g><g clip-path="url(#cmacd)"><rect x="1.35" y="344.70" width="1.9" height="7.60" fill="#008000"/><rect x="6.34" y="347.20" width="1.9" height="5.10" fill="#008000"/><rect x="11.32" y="347.90" width="1.9" height="4.40" fill="#008000"/><rect x="16.31" y="349.00" width="1.9" height="3.30" fill="#008000"/><rect x="21.30" y="349.80" width="1.9" height="2.50" fill="#008000"/><rect x="26.29" y="351.30" width="1.9" height="1.00" fill="#008000"/><rect x="31.27" y="352.30" width="1.9" height="2.50" fill="#ff0000"/><rect x="36.26" y="352.30" width="1.9" height="3.20" fill="#ff0000"/><rect x="41.25" y="352.30" width="1.9" height="3.20" fill="#ff0000"/><rect x="46.23" y="352.30" width="1.9" height="2.90" fill="#ff0000"/><rect x="51.22" y="352.30" width="1.9" height="1.90" fill="#ff0000"/><rect x="56.21" y="352.30" width="1.9" height="8.04" fill="#ff0000"/><rect x="61.19" y="352.30" width="1.9" height="13.48" fill="#ff0000"/><rect x="66.18" y="352.30" width="1.9" height="19.17" fill="#ff0000"/><rect x="71.17" y="352.30" width="1.9" height="23.44" fill="#ff0000"/><rect x="76.16" y="352.30" width="1.9" height="24.49" fill="#ff0000"/><rect x="81.14" y="352.30" width="1.9" height="22.76" fill="#ff0000"/><rect x="86.13" y="352.30" width="1.9" height="19.45" fill="#ff0000"/><rect x="91.12" y="352.30" width="1.9" height="15.96" fill="#ff0000"/><rect x="96.10" y="352.30" width="1.9" height="15.81" fill="#ff0000"/><rect x="101.09" y="352.30" width="1.9" height="12.53" fill="#ff0000"/><rect x="106.08" y="352.30" width="1.9" height="10.96" fill="#ff0000"/><rect x="111.06" y="352.30" width="1.9" height="12.30" fill="#ff0000"/><rect x="116.05" y="352.30" width="1.9" height="15.67" fill="#ff0000"/><rect x="121.04" y="352.30" width="1.9" height="17.81" fill="#ff0000"/><rect x="126.02" y="352.30" width="1.9" height="19.97" fill="#ff0000"/><rect x="131.01" y="352.30" width="1.9" height="19.94" fill="#ff0000"/><rect x="136.00" y="352.30" width="1.9" height="18.99" fill="#ff0000"/><rect x="140.99" y="352.30" width="1.9" height="14.71" fill="#ff0000"/><rect x="145.97" y="352.30" width="1.9" height="10.27" fill="#ff0000"/><rect x="150.96" y="352.30" width="1.9" height="12.06" fill="#ff0000"/><rect x="155.95" y="352.30" width="1.9" height="14.72" fill="#ff0000"/><rect x="160.93" y="352.30" width="1.9" height="14.23" fill="#ff0000"/><rect x="165.92" y="352.30" width="1.9" height="13.18" fill="#ff0000"/><rect x="170.91" y="352.30" width="1.9" height="9.64" fill="#ff0000"/><rect x="175.90" y="352.30" width="1.9" height="6.78" fill="#ff0000"/><rect x="180.88" y="352.30" width="1.9" height="5.54" fill="#ff0000"/><rect x="185.87" y="352.30" width="1.9" height="5.18" fill="#ff0000"/><rect x="190.86" y="352.30" width="1.9" height="1.29" fill="#ff0000"/><rect x="195.84" y="350.62" width="1.9" height="1.68" fill="#008000"/><rect x="200.83" y="350.30" width="1.9" height="2.00" fill="#008000"/><rect x="205.82" y="348.52" width="1.9" height="3.78" fill="#008000"/><rect x="210.80" y="344.99" width="1.9" height="7.31" fill="#008000"/><rect x="215.79" y="341.72" width="1.9" height="10.58" fill="#008000"/><rect x="220.78" y="338.89" width="1.9" height="13.41" fill="#008000"/><rect x="225.77" y="335.65" width="1.9" height="16.65" fill="#008000"/><rect x="230.75" y="331.79" width="1.9" height="20.51" fill="#008000"/><rect x="235.74" y="333.69" width="1.9" height="18.61" fill="#008000"/><rect x="240.73" y="338.54" width="1.9" height="13.76" fill="#008000"/><rect x="245.71" y="342.34" width="1.9" height="9.96" fill="#008000"/><rect x="250.70" y="342.76" width="1.9" height="9.54" fill="#008000"/><rect x="255.69" y="342.26" width="1.9" height="10.04" fill="#008000"/><rect x="260.67" y="344.08" width="1.9" height="8.22" fill="#008000"/><rect x="265.66" y="347.78" width="1.9" height="4.52" fill="#008000"/><rect x="270.65" y="351.30" width="1.9" height="1.00" fill="#008000"/><rect x="275.64" y="352.30" width="1.9" height="2.09" fill="#ff0000"/><rect x="280.62" y="352.30" width="1.9" height="5.11" fill="#ff0000"/><rect x="285.61" y="352.30" width="1.9" height="5.72" fill="#ff0000"/><rect x="290.60" y="352.30" width="1.9" height="3.26" fill="#ff0000"/><rect x="295.58" y="352.30" width="1.9" height="1.83" fill="#ff0000"/><rect x="300.57" y="352.30" width="1.9" height="1.55" fill="#ff0000"/><rect x="305.56" y="352.30" width="1.9" height="3.38" fill="#ff0000"/><rect x="310.54" y="352.30" width="1.9" height="8.75" fill="#ff0000"/><rect x="315.53" y="352.30" width="1.9" height="7.78" fill="#ff0000"/><rect x="320.52" y="352.30" width="1.9" height="4.31" fill="#ff0000"/><rect x="325.51" y="352.30" width="1.9" height="4.46" fill="#ff0000"/><rect x="330.49" y="352.30" width="1.9" height="3.29" fill="#ff0000"/><rect x="335.48" y="348.73" width="1.9" height="3.57" fill="#008000"/><rect x="340.47" y="345.41" width="1.9" height="6.89" fill="#008000"/><rect x="345.45" y="343.82" width="1.9" height="8.48" fill="#008000"/><rect x="350.44" y="344.51" width="1.9" height="7.79" fill="#008000"/><rect x="355.43" y="346.49" width="1.9" height="5.81" fill="#008000"/><rect x="360.41" y="346.00" width="1.9" height="6.30" fill="#008000"/><rect x="365.40" y="343.52" width="1.9" height="8.78" fill="#008000"/><rect x="370.39" y="342.68" width="1.9" height="9.62" fill="#008000"/><rect x="375.38" y="339.57" width="1.9" height="12.73" fill="#008000"/><rect x="380.36" y="340.47" width="1.9" height="11.83" fill="#008000"/><rect x="385.35" y="341.26" width="1.9" height="11.04" fill="#008000"/><rect x="390.34" y="340.74" width="1.9" height="11.56" fill="#008000"/><rect x="395.32" y="340.15" width="1.9" height="12.15" fill="#008000"/><rect x="400.31" y="346.37" width="1.9" height="5.93" fill="#008000"/><rect x="405.30" y="351.30" width="1.9" height="1.00" fill="#008000"/><rect x="410.28" y="352.30" width="1.9" height="1.00" fill="#ff0000"/><rect x="415.27" y="351.30" width="1.9" height="1.00" fill="#008000"/><rect x="420.26" y="350.44" width="1.9" height="1.86" fill="#008000"/><rect x="425.25" y="348.93" width="1.9" height="3.37" fill="#008000"/><rect x="430.23" y="347.15" width="1.9" height="5.15" fill="#008000"/><rect x="435.22" y="346.54" width="1.9" height="5.76" fill="#008000"/><rect x="440.21" y="340.37" width="1.9" height="11.93" fill="#008000"/><rect x="445.19" y="334.55" width="1.9" height="17.75" fill="#008000"/><rect x="450.18" y="330.92" width="1.9" height="21.38" fill="#008000"/><rect x="455.17" y="331.31" width="1.9" height="20.99" fill="#008000"/><rect x="460.15" y="329.47" width="1.9" height="22.83" fill="#008000"/><rect x="465.14" y="331.76" width="1.9" height="20.54" fill="#008000"/><rect x="470.13" y="331.09" width="1.9" height="21.21" fill="#008000"/><rect x="475.12" y="332.08" width="1.9" height="20.22" fill="#008000"/><rect x="480.10" y="335.88" width="1.9" height="16.42" fill="#008000"/><rect x="485.09" y="343.71" width="1.9" height="8.59" fill="#008000"/><rect x="490.08" y="351.12" width="1.9" height="1.18" fill="#008000"/><rect x="495.06" y="352.30" width="1.9" height="4.50" fill="#ff0000"/><rect x="500.05" y="352.30" width="1.9" height="8.72" fill="#ff0000"/><rect x="505.04" y="352.30" width="1.9" height="7.58" fill="#ff0000"/><rect x="510.02" y="352.30" width="1.9" height="6.30" fill="#ff0000"/><rect x="515.01" y="352.30" width="1.9" height="4.87" fill="#ff0000"/><rect x="520.00" y="352.30" width="1.9" height="2.58" fill="#ff0000"/><rect x="524.98" y="352.30" width="1.9" height="1.00" fill="#ff0000"/><rect x="529.97" y="350.20" width="1.9" height="2.10" fill="#008000"/><rect x="534.96" y="348.64" width="1.9" height="3.66" fill="#008000"/><rect x="539.95" y="350.00" width="1.9" height="2.30" fill="#008000"/><rect x="544.93" y="348.53" width="1.9" height="3.77" fill="#008000"/><rect x="549.92" y="347.74" width="1.9" height="4.56" fill="#008000"/><rect x="554.91" y="347.07" width="1.9" height="5.23" fill="#008000"/><rect x="559.89" y="347.33" width="1.9" height="4.97" fill="#008000"/><rect x="564.88" y="349.17" width="1.9" height="3.13" fill="#008000"/><rect x="569.87" y="350.37" width="1.9" height="1.93" fill="#008000"/><rect x="574.85" y="351.30" width="1.9" height="1.00" fill="#008000"/><rect x="579.84" y="352.30" width="1.9" height="1.90" fill="#ff0000"/><rect x="584.83" y="352.30" width="1.9" height="1.00" fill="#ff0000"/><rect x="589.82" y="351.30" width="1.9" height="1.00" fill="#008000"/><rect x="594.80" y="352.30" width="1.9" height="1.00" fill="#ff0000"/><rect x="599.79" y="352.30" width="1.9" height="1.00" fill="#ff0000"/><rect x="604.78" y="352.30" width="1.9" height="1.00" fill="#ff0000"/><rect x="609.76" y="352.30" width="1.9" height="1.00" fill="#ff0000"/><rect x="614.75" y="351.30" width="1.9" height="1.00" fill="#008000"/><rect x="619.74" y="352.30" width="1.9" height="1.80" fill="#ff0000"/><rect x="624.72" y="352.30" width="1.9" height="6.98" fill="#ff0000"/><rect x="629.71" y="352.30" width="1.9" height="7.92" fill="#ff0000"/><rect x="634.70" y="352.30" width="1.9" height="7.93" fill="#ff0000"/><rect x="639.69" y="352.30" width="1.9" height="7.74" fill="#ff0000"/><rect x="644.67" y="352.30" width="1.9" height="10.01" fill="#ff0000"/><rect x="649.66" y="352.30" width="1.9" height="13.42" fill="#ff0000"/><rect x="654.65" y="352.30" width="1.9" height="14.33" fill="#ff0000"/><rect x="659.63" y="352.30" width="1.9" height="12.35" fill="#ff0000"/><rect x="664.62" y="352.30" width="1.9" height="6.59" fill="#ff0000"/><rect x="669.61" y="352.30" width="1.9" height="1.63" fill="#ff0000"/><rect x="674.59" y="350.76" width="1.9" height="1.54" fill="#008000"/><rect x="679.58" y="346.38" width="1.9" height="5.92" fill="#008000"/><rect x="684.57" y="344.18" width="1.9" height="8.12" fill="#008000"/><rect x="689.56" y="343.20" width="1.9" height="9.10" fill="#008000"/><rect x="694.54" y="342.71" width="1.9" height="9.59" fill="#008000"/><rect x="699.53" y="344.58" width="1.9" height="7.72" fill="#008000"/><rect x="704.52" y="347.13" width="1.9" height="5.17" fill="#008000"/><rect x="709.50" y="345.92" width="1.9" height="6.38" fill="#008000"/><rect x="714.49" y="347.18" width="1.9" height="5.12" fill="#008000"/><rect x="719.48" y="348.26" width="1.9" height="4.04" fill="#008000"/><rect x="724.46" y="351.30" width="1.9" height="1.00" fill="#008000"/><rect x="729.45" y="352.30" width="1.9" height="1.00" fill="#ff0000"/><rect x="734.44" y="352.30" width="1.9" height="1.28" fill="#ff0000"/><rect x="739.43" y="352.30" width="1.9" height="3.09" fill="#ff0000"/><rect x="744.41" y="352.30" width="1.9" height="5.37" fill="#ff0000"/><rect x="749.40" y="352.30" width="1.9" height="7.31" fill="#ff0000"/><rect x="754.39" y="352.30" width="1.9" height="6.49" fill="#ff0000"/><rect x="759.37" y="352.30" width="1.9" height="6.08" fill="#ff0000"/><rect x="764.36" y="352.30" width="1.9" height="5.72" fill="#ff0000"/><rect x="769.35" y="352.30" width="1.9" height="3.40" fill="#ff0000"/><rect x="774.33" y="352.30" width="1.9" height="1.00" fill="#ff0000"/><rect x="779.32" y="351.30" width="1.9" height="1.00" fill="#008000"/><rect x="784.31" y="348.48" width="1.9" height="3.82" fill="#008000"/><rect x="789.30" y="347.52" width="1.9" height="4.78" fill="#008000"/><polyline points="2.30,342.10 7.29,338.78 12.27,337.83 17.26,337.31 22.25,337.51 27.24,337.71 32.22,337.86 37.21,338.04 42.20,339.04 47.18,340.01 52.17,340.47 57.16,342.83 62.14,346.20 67.13,350.99 72.12,356.86 77.11,362.98 82.09,368.67 87.08,373.53 92.07,377.52 97.05,381.47 102.04,384.61 107.03,387.35 112.01,390.42 117.00,394.34 121.99,398.79 126.97,403.78 131.96,408.77 136.95,413.52 141.94,417.20 146.92,419.76 151.91,422.78 156.90,426.46 161.88,430.02 166.87,433.31 171.86,435.72 176.85,437.41 181.83,438.80 186.82,440.09 191.81,440.42 196.79,440.00 201.78,439.50 206.77,438.55 211.75,436.72 216.74,434.08 221.73,430.73 226.72,426.56 231.70,421.43 236.69,416.78 241.68,413.34 246.66,410.85 251.65,408.47 256.64,405.96 261.62,403.90 266.61,402.77 271.60,402.55 276.59,403.07 281.57,404.35 286.56,405.78 291.55,406.60 296.53,407.06 301.52,407.44 306.51,408.29 311.49,410.48 316.48,412.42 321.47,413.50 326.46,414.61 331.44,415.44 336.43,414.54 341.42,412.82 346.40,410.70 351.39,408.75 356.38,407.30 361.36,405.73 366.35,403.53 371.34,401.13 376.33,397.95 381.31,394.99 386.30,392.23 391.29,389.34 396.27,386.30 401.26,384.82 406.25,384.74 411.23,384.82 416.22,384.58 421.21,384.12 426.19,383.28 431.18,381.99 436.17,380.55 441.16,377.57 446.14,373.13 451.13,367.78 456.12,362.54 461.10,356.83 466.09,351.69 471.08,346.39 476.06,341.34 481.05,337.23 486.04,335.08 491.03,334.79 496.01,335.92 501.00,338.09 505.99,339.99 510.97,341.56 515.96,342.78 520.95,343.43 525.93,343.58 530.92,343.05 535.91,342.14 540.90,341.57 545.88,340.62 550.87,339.48 555.86,338.18 560.84,336.93 565.83,336.15 570.82,335.67 575.80,335.59 580.79,336.07 585.78,336.28 590.77,336.18 595.75,336.24 600.74,336.32 605.73,336.46 610.71,336.67 615.70,336.66 620.69,337.11 625.67,338.85 630.66,340.83 635.65,342.82 640.64,344.75 645.62,347.25 650.61,350.61 655.60,354.19 660.58,357.28 665.57,358.92 670.56,359.33 675.54,358.95 680.53,357.47 685.52,355.44 690.51,353.16 695.49,350.77 700.48,348.84 705.47,347.54 710.45,345.95 715.44,344.67 720.43,343.66 725.41,343.52 730.40,343.55 735.39,343.87 740.38,344.64 745.36,345.99 750.35,347.81 755.34,349.44 760.32,350.96 765.31,352.39 770.30,353.24 775.28,353.29 780.27,353.07 785.26,352.11 790.25,350.92" fill="none" stroke="#ff3030" stroke-width="0.9" stroke-linejoin="round" /><polyline points="2.30,334.10 7.29,334.10 12.27,334.10 17.26,334.10 22.25,334.52 27.24,337.71 32.22,340.12 37.21,341.34 42.20,342.30 47.18,342.35 52.17,342.69 57.16,350.87 62.14,359.68 67.13,370.17 72.12,380.30 77.11,387.47 82.09,391.43 87.08,392.98 92.07,393.48 97.05,397.28 102.04,397.14 107.03,398.31 112.01,402.72 117.00,410.01 121.99,416.60 126.97,423.75 131.96,428.71 136.95,432.51 141.94,431.91 146.92,430.04 151.91,434.83 156.90,441.18 161.88,444.25 166.87,446.49 171.86,445.36 176.85,444.19 181.83,444.34 186.82,445.27 191.81,441.70 196.79,438.32 201.78,437.49 206.77,434.78 211.75,429.42 216.74,423.50 221.73,417.31 226.72,409.91 231.70,400.93 236.69,398.17 241.68,399.58 246.66,400.90 251.65,398.93 256.64,395.91 261.62,395.69 266.61,398.26 271.60,401.65 276.59,405.17 281.57,409.46 286.56,411.51 291.55,409.86 296.53,408.89 301.52,408.99 306.51,411.67 311.49,419.23 316.48,420.20 321.47,417.81 326.46,419.07 331.44,418.72 336.43,410.97 341.42,405.94 346.40,402.22 351.39,400.97 356.38,401.49 361.36,399.43 366.35,394.75 371.34,391.51 376.33,385.22 381.31,383.16 386.30,381.19 391.29,377.78 396.27,374.15 401.26,378.88 406.25,384.41 411.23,385.17 416.22,383.62 421.21,382.26 426.19,379.91 431.18,376.84 436.17,374.79 441.16,365.64 446.14,355.38 451.13,346.40 456.12,341.55 461.10,334.00 466.09,331.15 471.08,325.18 476.06,321.12 481.05,320.82 486.04,326.49 491.03,333.61 496.01,340.42 501.00,346.81 505.99,347.57 510.97,347.86 515.96,347.65 520.95,346.00 525.93,344.20 530.92,340.96 535.91,338.48 540.90,339.27 545.88,336.86 550.87,334.93 555.86,332.95 560.84,331.96 565.83,333.02 570.82,333.74 575.80,335.30 580.79,337.96 585.78,337.15 590.77,335.77 595.75,336.48 600.74,336.64 605.73,337.00 610.71,337.53 615.70,336.61 620.69,338.91 625.67,345.83 630.66,348.75 635.65,350.74 640.64,352.49 645.62,357.27 650.61,364.02 655.60,368.52 660.58,369.62 665.57,365.52 670.56,360.96 675.54,357.40 680.53,351.55 685.52,347.32 690.51,344.07 695.49,341.18 700.48,341.11 705.47,342.38 710.45,339.57 715.44,339.55 720.43,339.61 725.41,342.94 730.40,343.69 735.39,345.15 740.38,347.74 745.36,351.35 750.35,355.12 755.34,355.93 760.32,357.04 765.31,358.11 770.30,356.64 775.28,353.49 780.27,352.20 785.26,348.29 790.25,346.14" fill="none" stroke="#0000ff" stroke-width="1.6" stroke-linejoin="round" /></g><g clip-path="url(#crsi)"><line x1="1.90" y1="483.28" x2="997.00" y2="483.28" stroke="#555" stroke-width="0.9" stroke-dasharray="1.9,1.85"/><line x1="1.90" y1="501.83" x2="997.00" y2="501.83" stroke="#8a8a8a" stroke-width="1.4" stroke-dasharray="1.9,1.85"/><line x1="1.90" y1="520.38" x2="997.00" y2="520.38" stroke="#555" stroke-width="0.9" stroke-dasharray="1.9,1.85"/><polyline points="2.30,491.95 7.29,496.90 12.27,495.34 17.26,495.94 22.25,495.62 27.24,500.93 32.22,503.28 37.21,500.46 42.20,500.87 47.18,499.29 52.17,496.47 57.16,514.68 62.14,518.55 67.13,522.79 72.12,524.86 77.11,523.58 82.09,520.04 87.08,517.00 92.07,516.28 97.05,521.37 102.04,514.54 107.03,516.94 112.01,521.52 117.00,525.45 121.99,526.64 126.97,528.60 131.96,528.73 136.95,529.29 141.94,522.15 146.92,520.88 151.91,527.12 156.90,529.40 161.88,527.29 166.87,527.91 171.86,523.46 176.85,524.14 181.83,525.94 186.82,527.41 191.81,519.46 196.79,519.91 201.78,522.70 206.77,520.01 211.75,514.71 216.74,512.85 221.73,511.20 226.72,507.24 231.70,502.25 236.69,509.86 241.68,514.88 246.66,515.72 251.65,510.83 256.64,509.01 261.62,512.51 266.61,516.30 271.60,518.30 276.59,519.74 281.57,521.80 286.56,520.22 291.55,514.42 296.53,515.61 301.52,517.42 306.51,520.93 311.49,526.06 316.48,517.47 321.47,513.18 326.46,516.98 331.44,515.92 336.43,505.26 341.42,507.24 346.40,508.22 351.39,510.76 356.38,512.98 361.36,509.76 366.35,505.74 371.34,506.92 376.33,501.85 381.31,506.21 386.30,506.21 391.29,503.72 396.27,502.63 401.26,512.72 406.25,514.87 411.23,509.53 416.22,506.78 421.21,507.06 426.19,505.49 431.18,503.97 436.17,504.94 441.16,494.23 446.14,490.89 451.13,489.91 456.12,493.71 461.10,489.36 466.09,494.24 471.08,489.94 476.06,490.47 481.05,494.79 486.04,502.82 491.03,505.76 496.01,506.99 501.00,508.14 505.99,501.71 510.97,501.23 515.96,500.50 520.95,498.25 525.93,497.39 530.92,494.59 535.91,494.50 540.90,499.51 545.88,494.64 550.87,494.33 555.86,493.32 560.84,494.10 565.83,497.70 570.82,497.09 575.80,498.92 580.79,501.79 585.78,495.62 590.77,493.98 595.75,497.87 600.74,496.71 605.73,496.87 610.71,497.05 615.70,493.73 620.69,501.38 625.67,511.20 630.66,505.37 635.65,504.62 640.64,504.97 645.62,511.24 650.61,515.79 655.60,514.09 660.58,508.73 665.57,499.44 670.56,497.47 675.54,497.69 680.53,492.82 685.52,493.60 690.51,493.60 695.49,492.84 700.48,498.03 705.47,500.77 710.45,493.42 715.44,497.98 720.43,497.86 725.41,504.37 730.40,500.43 735.39,502.02 740.38,504.73 745.36,507.62 750.35,509.31 755.34,504.32 760.32,505.37 765.31,505.91 770.30,500.57 775.28,496.52 780.27,499.40 785.26,493.79 790.25,495.94" fill="none" stroke="#1e90ff" stroke-width="1.3" stroke-linejoin="round" /></g><g clip-path="url(#cst)"><line x1="1.90" y1="565.26" x2="997.00" y2="565.26" stroke="#555" stroke-width="0.9" stroke-dasharray="1.9,1.85"/><line x1="1.90" y1="606.54" x2="997.00" y2="606.54" stroke="#555" stroke-width="0.9" stroke-dasharray="1.9,1.85"/><polyline points="1.90,569.00 7.60,566.50 11.40,567.80 17.80,574.80 22.90,577.30 30.50,586.80 36.80,597.60 43.20,603.30 52.17,594.72 57.16,594.52 62.14,599.90 67.13,610.28 72.12,616.44 77.11,618.53 82.09,616.83 87.08,614.25 92.07,610.96 97.05,608.27 102.04,605.06 107.03,601.88 112.01,599.68 117.00,603.59 121.99,610.66 126.97,617.24 131.96,619.16 136.95,619.10 141.94,617.17 146.92,613.76 151.91,610.18 156.90,609.49 161.88,610.75 166.87,610.73 171.86,607.63 176.85,604.25 181.83,602.82 186.82,604.89 191.81,606.17 196.79,604.39 201.78,598.85 206.77,594.98 211.75,592.82 216.74,589.37 221.73,583.66 226.72,577.87 231.70,574.61 236.69,573.86 241.68,578.09 246.66,588.41 251.65,599.58 256.64,605.67 261.62,606.60 266.61,607.48 271.60,610.88 276.59,614.60 281.57,616.36 286.56,616.33 291.55,614.04 296.53,609.99 301.52,605.60 306.51,603.47 311.49,605.50 316.48,606.97 321.47,606.03 326.46,601.00 331.44,597.64 336.43,593.86 341.42,587.82 346.40,577.87 351.39,573.71 356.38,577.39 361.36,586.41 366.35,590.68 371.34,589.35 376.33,582.78 381.31,578.96 386.30,576.86 391.29,579.58 396.27,578.94 401.26,582.71 406.25,589.91 411.23,601.17 416.22,604.81 421.21,600.32 426.19,591.85 431.18,585.58 436.17,581.43 441.16,575.57 446.14,568.16 451.13,560.39 456.12,557.88 461.10,558.30 466.09,561.29 471.08,561.02 476.06,561.28 481.05,561.43 486.04,570.11 491.03,586.15 496.01,604.01 501.00,614.77 505.99,614.98 510.97,610.24 515.96,603.01 520.95,596.50 525.93,589.62 530.92,582.05 535.91,574.07 540.90,569.27 545.88,568.30 550.87,569.46 555.86,568.63 560.84,568.24 565.83,570.52 570.82,576.34 575.80,584.38 580.79,591.58 585.78,595.76 590.77,594.38 595.75,588.75 600.74,583.58 605.73,581.71 610.71,581.60 615.70,580.39 620.69,580.82 625.67,587.06 630.66,597.47 635.65,604.75 640.64,604.73 645.62,603.65 650.61,605.72 655.60,611.48 660.58,613.94 665.57,607.86 670.56,592.12 675.54,573.89 680.53,561.38 685.52,556.75 690.51,556.16 695.49,556.46 700.48,558.74 705.47,564.27 710.45,571.11 715.44,577.80 720.43,579.36 725.41,585.66 730.40,591.12 735.39,600.26 740.38,602.11 745.36,604.95 750.35,607.08 755.34,608.17 760.32,605.84 765.31,600.03 770.30,593.42 775.28,583.86 780.27,574.05 785.26,565.40 790.25,562.19" fill="none" stroke="#ff2020" stroke-width="0.9" stroke-linejoin="round" /><polyline points="1.90,561.20 6.30,569.70 11.40,573.50 17.80,580.50 21.60,578.60 27.90,589.40 36.80,606.50 42.20,603.00 47.18,594.84 52.17,588.51 57.16,600.22 62.14,610.97 67.13,619.65 72.12,618.69 77.11,617.24 82.09,614.57 87.08,610.93 92.07,607.39 97.05,606.49 102.04,601.29 107.03,597.87 112.01,599.87 117.00,613.03 121.99,619.08 126.97,619.63 131.96,618.78 136.95,618.89 141.94,613.84 146.92,608.56 151.91,608.15 156.90,611.76 161.88,612.35 166.87,608.10 171.86,602.44 176.85,602.21 181.83,603.81 186.82,608.66 191.81,606.03 196.79,598.49 201.78,592.04 206.77,594.41 211.75,592.00 216.74,581.69 221.73,577.28 226.72,574.63 231.70,571.92 236.69,575.02 241.68,587.31 246.66,602.91 251.65,608.53 256.64,605.58 261.62,605.71 266.61,611.16 271.60,615.77 276.59,616.85 281.57,616.45 286.56,615.70 291.55,609.97 296.53,604.31 301.52,602.53 306.51,603.57 311.49,610.41 316.48,606.92 321.47,600.76 326.46,595.31 331.44,596.85 336.43,589.42 341.42,577.19 346.40,566.99 351.39,576.96 356.38,588.21 361.36,594.06 366.35,589.77 371.34,584.23 376.33,574.32 381.31,578.31 386.30,577.95 391.29,582.47 396.27,576.40 401.26,589.27 406.25,604.06 411.23,610.17 416.22,600.19 421.21,590.60 426.19,584.75 431.18,581.38 436.17,578.15 441.16,567.17 446.14,559.14 451.13,554.85 456.12,559.65 461.10,560.40 466.09,563.82 471.08,558.84 476.06,561.18 481.05,564.28 486.04,584.86 491.03,609.32 496.01,617.85 501.00,617.14 505.99,609.96 510.97,603.63 515.96,595.44 520.95,590.43 525.93,582.98 530.92,572.75 535.91,566.49 540.90,568.57 545.88,569.86 550.87,569.95 555.86,566.09 560.84,568.68 565.83,576.78 570.82,583.55 575.80,592.82 580.79,598.37 585.78,596.09 590.77,588.69 595.75,581.48 600.74,580.58 605.73,583.06 610.71,581.17 615.70,576.93 620.69,584.36 625.67,599.89 630.66,608.18 635.65,606.18 640.64,599.82 645.62,604.95 650.61,612.37 655.60,617.11 660.58,612.35 665.57,594.13 670.56,569.88 675.54,557.65 680.53,556.62 685.52,555.98 690.51,555.89 695.49,557.50 700.48,562.83 705.47,572.48 710.45,578.01 715.44,582.92 720.43,577.17 725.41,596.89 730.40,599.30 735.39,604.58 740.38,602.44 745.36,607.85 750.35,610.95 755.34,605.69 760.32,600.86 765.31,593.55 770.30,585.86 775.28,572.18 780.27,564.12 785.26,559.91 790.25,562.53" fill="none" stroke="#3030ff" stroke-width="0.9" stroke-linejoin="round" /></g><line x1="1.50" y1="1.00" x2="1.50" y2="621.50" stroke="#4a4a4a" stroke-width="1" /><line x1="1.00" y1="1.50" x2="998.00" y2="1.50" stroke="#4a4a4a" stroke-width="1" /><line x1="997.50" y1="1.00" x2="997.50" y2="621.50" stroke="#4a4a4a" stroke-width="1" /><line x1="1.00" y1="621.50" x2="998.00" y2="621.50" stroke="#4a4a4a" stroke-width="1" /><rect x="1" y="312.1" width="997" height="2.7" fill="#9c9c9c"/><rect x="1" y="453" width="997" height="2.3" fill="#4a4a4a"/><rect x="1" y="549" width="997" height="1.9" fill="#4a4a4a"/><path d="M4,5.3 L8.4,5.3 L6.2,8 Z" fill="#111"/><text x="11.90" y="8.80" font-size="6.8" fill="#202020" textLength="53.60" lengthAdjust="spacingAndGlyphs">AUDUSD.m,Weekly</text><text x="69.00" y="8.80" font-size="6.8" fill="#202020" textLength="19.80" lengthAdjust="spacingAndGlyphs">0.76810</text><text x="91.20" y="8.80" font-size="6.8" fill="#202020" textLength="19.80" lengthAdjust="spacingAndGlyphs">0.76947</text><text x="113.80" y="8.80" font-size="6.8" fill="#202020" textLength="19.80" lengthAdjust="spacingAndGlyphs">0.76503</text><text x="136.20" y="8.80" font-size="6.8" fill="#202020" textLength="19.80" lengthAdjust="spacingAndGlyphs">0.76552</text><text x="4.80" y="321.80" font-size="6.8" fill="#202020" textLength="40.90" lengthAdjust="spacingAndGlyphs">MACD(12,26,9)</text><text x="47.50" y="321.80" font-size="6.8" fill="#202020" textLength="23.00" lengthAdjust="spacingAndGlyphs">0.002180</text><text x="72.90" y="321.80" font-size="6.8" fill="#202020" textLength="23.00" lengthAdjust="spacingAndGlyphs">0.000520</text><text x="98.60" y="321.80" font-size="6.8" fill="#202020" textLength="23.00" lengthAdjust="spacingAndGlyphs">0.001660</text><text x="124.10" y="321.80" font-size="6.8" fill="#202020" textLength="23.00" lengthAdjust="spacingAndGlyphs">0.000000</text><text x="150.00" y="321.80" font-size="6.8" fill="#202020" textLength="23.00" lengthAdjust="spacingAndGlyphs">0.001660</text><text x="4.40" y="462.80" font-size="6.8" fill="#202020" textLength="19.30" lengthAdjust="spacingAndGlyphs">RSI(14)</text><text x="26.40" y="462.80" font-size="6.8" fill="#202020" textLength="19.70" lengthAdjust="spacingAndGlyphs">56.7591</text><text x="4.40" y="558.80" font-size="6.8" fill="#202020" textLength="30.70" lengthAdjust="spacingAndGlyphs">Stoch(8,3,3)</text><text x="37.60" y="558.80" font-size="6.8" fill="#202020" textLength="20.40" lengthAdjust="spacingAndGlyphs">85.6228</text><text x="59.80" y="558.80" font-size="6.8" fill="#202020" textLength="20.20" lengthAdjust="spacingAndGlyphs">85.5628</text><path d="M997.6,21.60 L999.2,22.70 L997.6,23.80" fill="none" stroke="#555" stroke-width="0.7"/><text x="1001.00" y="25.10" font-size="6.8" fill="#202020" textLength="20.50" lengthAdjust="spacingAndGlyphs">0.94485</text><path d="M997.6,42.20 L999.2,43.30 L997.6,44.40" fill="none" stroke="#555" stroke-width="0.7"/><text x="1001.00" y="45.70" font-size="6.8" fill="#202020" textLength="20.50" lengthAdjust="spacingAndGlyphs">0.92615</text><path d="M997.6,62.80 L999.2,63.90 L997.6,65.00" fill="none" stroke="#555" stroke-width="0.7"/><text x="1001.00" y="66.30" font-size="6.8" fill="#202020" textLength="20.50" lengthAdjust="spacingAndGlyphs">0.90690</text><path d="M997.6,83.40 L999.2,84.50 L997.6,85.60" fill="none" stroke="#555" stroke-width="0.7"/><text x="1001.00" y="86.90" font-size="6.8" fill="#202020" textLength="20.50" lengthAdjust="spacingAndGlyphs">0.88765</text><path d="M997.6,103.90 L999.2,105.00 L997.6,106.10" fill="none" stroke="#555" stroke-width="0.7"/><text x="1001.00" y="107.40" font-size="6.8" fill="#202020" textLength="20.50" lengthAdjust="spacingAndGlyphs">0.86840</text><path d="M997.6,124.40 L999.2,125.50 L997.6,126.60" fill="none" stroke="#555" stroke-width="0.7"/><text x="1001.00" y="127.90" font-size="6.8" fill="#202020" textLength="20.50" lengthAdjust="spacingAndGlyphs">0.84970</text><path d="M997.6,144.90 L999.2,146.00 L997.6,147.10" fill="none" stroke="#555" stroke-width="0.7"/><text x="1001.00" y="148.40" font-size="6.8" fill="#202020" textLength="20.50" lengthAdjust="spacingAndGlyphs">0.83045</text><path d="M997.6,165.50 L999.2,166.60 L997.6,167.70" fill="none" stroke="#555" stroke-width="0.7"/><text x="1001.00" y="169.00" font-size="6.8" fill="#202020" textLength="20.50" lengthAdjust="spacingAndGlyphs">0.81120</text><path d="M997.6,186.00 L999.2,187.10 L997.6,188.20" fill="none" stroke="#555" stroke-width="0.7"/><text x="1001.00" y="189.50" font-size="6.8" fill="#202020" textLength="20.50" lengthAdjust="spacingAndGlyphs">0.79195</text><path d="M997.6,206.90 L999.2,208.00 L997.6,209.10" fill="none" stroke="#555" stroke-width="0.7"/><text x="1001.00" y="210.40" font-size="6.8" fill="#202020" textLength="20.50" lengthAdjust="spacingAndGlyphs">0.77270</text><path d="M997.6,227.40 L999.2,228.50 L997.6,229.60" fill="none" stroke="#555" stroke-width="0.7"/><text x="1001.00" y="230.90" font-size="6.8" fill="#202020" textLength="20.50" lengthAdjust="spacingAndGlyphs">0.75400</text><path d="M997.6,247.90 L999.2,249.00 L997.6,250.10" fill="none" stroke="#555" stroke-width="0.7"/><text x="1001.00" y="251.40" font-size="6.8" fill="#202020" textLength="20.50" lengthAdjust="spacingAndGlyphs">0.73475</text><path d="M997.6,268.50 L999.2,269.60 L997.6,270.70" fill="none" stroke="#555" stroke-width="0.7"/><text x="1001.00" y="272.00" font-size="6.8" fill="#202020" textLength="20.50" lengthAdjust="spacingAndGlyphs">0.71550</text><path d="M997.6,289.00 L999.2,290.10 L997.6,291.20" fill="none" stroke="#555" stroke-width="0.7"/><text x="1001.00" y="292.50" font-size="6.8" fill="#202020" textLength="20.50" lengthAdjust="spacingAndGlyphs">0.69625</text><path d="M997.6,309.70 L999.2,310.80 L997.6,311.90" fill="none" stroke="#555" stroke-width="0.7"/><text x="1001.00" y="313.20" font-size="6.8" fill="#202020" textLength="20.50" lengthAdjust="spacingAndGlyphs">0.67755</text><rect x="998.8" y="212.9" width="25.2" height="7.2" fill="#000"/><text x="1001.00" y="218.90" font-size="6.8" fill="#fff" textLength="20.50" lengthAdjust="spacingAndGlyphs">0.76552</text><text x="999.80" y="320.60" font-size="6.8" fill="#202020" textLength="23.30" lengthAdjust="spacingAndGlyphs">0.012965</text><path d="M997.6,351.20 L999.2,352.30 L997.6,353.40" fill="none" stroke="#555" stroke-width="0.7"/><text x="1000.00" y="355.00" font-size="6.8" fill="#202020" textLength="11.50" lengthAdjust="spacingAndGlyphs">0.00</text><text x="999.80" y="451.90" font-size="6.8" fill="#202020" textLength="23.70" lengthAdjust="spacingAndGlyphs">-0.034381</text><text x="1000.00" y="461.40" font-size="6.8" fill="#202020" textLength="9.30" lengthAdjust="spacingAndGlyphs">100</text><text x="1000.00" y="485.70" font-size="6.8" fill="#202020" textLength="6.20" lengthAdjust="spacingAndGlyphs">70</text><text x="1000.00" y="504.30" font-size="6.8" fill="#202020" textLength="6.20" lengthAdjust="spacingAndGlyphs">50</text><text x="1000.00" y="522.80" font-size="6.8" fill="#202020" textLength="6.20" lengthAdjust="spacingAndGlyphs">30</text><text x="1000.00" y="547.40" font-size="6.8" fill="#202020" textLength="3.10" lengthAdjust="spacingAndGlyphs">0</text><path d="M997.6,482.20 L999.2,483.30 L997.6,484.40" fill="none" stroke="#555" stroke-width="0.7"/><path d="M997.6,500.80 L999.2,501.90 L997.6,503.00" fill="none" stroke="#555" stroke-width="0.7"/><path d="M997.6,519.30 L999.2,520.40 L997.6,521.50" fill="none" stroke="#555" stroke-width="0.7"/><text x="1000.00" y="557.40" font-size="6.8" fill="#202020" textLength="9.30" lengthAdjust="spacingAndGlyphs">100</text><text x="1000.00" y="567.60" font-size="6.8" fill="#202020" textLength="6.20" lengthAdjust="spacingAndGlyphs">80</text><text x="1000.00" y="609.00" font-size="6.8" fill="#202020" textLength="6.20" lengthAdjust="spacingAndGlyphs">20</text><text x="1000.00" y="619.10" font-size="6.8" fill="#202020" textLength="3.10" lengthAdjust="spacingAndGlyphs">0</text><path d="M997.6,564.10 L999.2,565.20 L997.6,566.30" fill="none" stroke="#555" stroke-width="0.7"/><path d="M997.6,605.50 L999.2,606.60 L997.6,607.70" fill="none" stroke="#555" stroke-width="0.7"/><line x1="2.00" y1="622.00" x2="2.00" y2="624.00" stroke="#333" stroke-width="1" /><text x="1.50" y="628.90" font-size="6.8" fill="#202020" textLength="30.83" lengthAdjust="spacingAndGlyphs">22 Jun 2014</text><line x1="41.90" y1="622.00" x2="41.90" y2="624.00" stroke="#333" stroke-width="1" /><text x="41.40" y="628.90" font-size="6.8" fill="#202020" textLength="32.24" lengthAdjust="spacingAndGlyphs">17 Aug 2014</text><line x1="81.79" y1="622.00" x2="81.79" y2="624.00" stroke="#333" stroke-width="1" /><text x="81.29" y="628.90" font-size="6.8" fill="#202020" textLength="31.27" lengthAdjust="spacingAndGlyphs">12 Oct 2014</text><line x1="121.69" y1="622.00" x2="121.69" y2="624.00" stroke="#333" stroke-width="1" /><text x="121.19" y="628.90" font-size="6.8" fill="#202020" textLength="29.36" lengthAdjust="spacingAndGlyphs">7 Dec 2014</text><line x1="161.58" y1="622.00" x2="161.58" y2="624.00" stroke="#333" stroke-width="1" /><text x="161.08" y="628.90" font-size="6.8" fill="#202020" textLength="29.04" lengthAdjust="spacingAndGlyphs">1 Feb 2015</text><line x1="201.48" y1="622.00" x2="201.48" y2="624.00" stroke="#333" stroke-width="1" /><text x="200.98" y="628.90" font-size="6.8" fill="#202020" textLength="32.23" lengthAdjust="spacingAndGlyphs">29 Mar 2015</text><line x1="241.38" y1="622.00" x2="241.38" y2="624.00" stroke="#333" stroke-width="1" /><text x="240.88" y="628.90" font-size="6.8" fill="#202020" textLength="33.19" lengthAdjust="spacingAndGlyphs">24 May 2015</text><line x1="281.27" y1="622.00" x2="281.27" y2="624.00" stroke="#333" stroke-width="1" /><text x="280.77" y="628.90" font-size="6.8" fill="#202020" textLength="29.68" lengthAdjust="spacingAndGlyphs">19 Jul 2015</text><line x1="321.17" y1="622.00" x2="321.17" y2="624.00" stroke="#333" stroke-width="1" /><text x="320.67" y="628.90" font-size="6.8" fill="#202020" textLength="32.56" lengthAdjust="spacingAndGlyphs">13 Sep 2015</text><line x1="361.06" y1="622.00" x2="361.06" y2="624.00" stroke="#333" stroke-width="1" /><text x="360.56" y="628.90" font-size="6.8" fill="#202020" textLength="29.36" lengthAdjust="spacingAndGlyphs">8 Nov 2015</text><line x1="400.96" y1="622.00" x2="400.96" y2="624.00" stroke="#333" stroke-width="1" /><text x="400.46" y="628.90" font-size="6.8" fill="#202020" textLength="28.41" lengthAdjust="spacingAndGlyphs">3 Jan 2016</text><line x1="440.86" y1="622.00" x2="440.86" y2="624.00" stroke="#333" stroke-width="1" /><text x="440.36" y="628.90" font-size="6.8" fill="#202020" textLength="32.23" lengthAdjust="spacingAndGlyphs">28 Feb 2016</text><line x1="480.75" y1="622.00" x2="480.75" y2="624.00" stroke="#333" stroke-width="1" /><text x="480.25" y="628.90" font-size="6.8" fill="#202020" textLength="30.96" lengthAdjust="spacingAndGlyphs">24 Apr 2016</text><line x1="520.65" y1="622.00" x2="520.65" y2="624.00" stroke="#333" stroke-width="1" /><text x="520.15" y="628.90" font-size="6.8" fill="#202020" textLength="30.83" lengthAdjust="spacingAndGlyphs">19 Jun 2016</text><line x1="560.54" y1="622.00" x2="560.54" y2="624.00" stroke="#333" stroke-width="1" /><text x="560.04" y="628.90" font-size="6.8" fill="#202020" textLength="32.24" lengthAdjust="spacingAndGlyphs">14 Aug 2016</text><line x1="600.44" y1="622.00" x2="600.44" y2="624.00" stroke="#333" stroke-width="1" /><text x="599.94" y="628.90" font-size="6.8" fill="#202020" textLength="28.08" lengthAdjust="spacingAndGlyphs">9 Oct 2016</text><line x1="640.34" y1="622.00" x2="640.34" y2="624.00" stroke="#333" stroke-width="1" /><text x="639.84" y="628.90" font-size="6.8" fill="#202020" textLength="29.36" lengthAdjust="spacingAndGlyphs">4 Dec 2016</text><line x1="680.23" y1="622.00" x2="680.23" y2="624.00" stroke="#333" stroke-width="1" /><text x="679.73" y="628.90" font-size="6.8" fill="#202020" textLength="31.60" lengthAdjust="spacingAndGlyphs">29 Jan 2017</text><line x1="720.13" y1="622.00" x2="720.13" y2="624.00" stroke="#333" stroke-width="1" /><text x="719.63" y="628.90" font-size="6.8" fill="#202020" textLength="32.23" lengthAdjust="spacingAndGlyphs">26 Mar 2017</text><line x1="760.02" y1="622.00" x2="760.02" y2="624.00" stroke="#333" stroke-width="1" /><text x="759.52" y="628.90" font-size="6.8" fill="#202020" textLength="33.19" lengthAdjust="spacingAndGlyphs">21 May 2017</text></svg></body></html>
